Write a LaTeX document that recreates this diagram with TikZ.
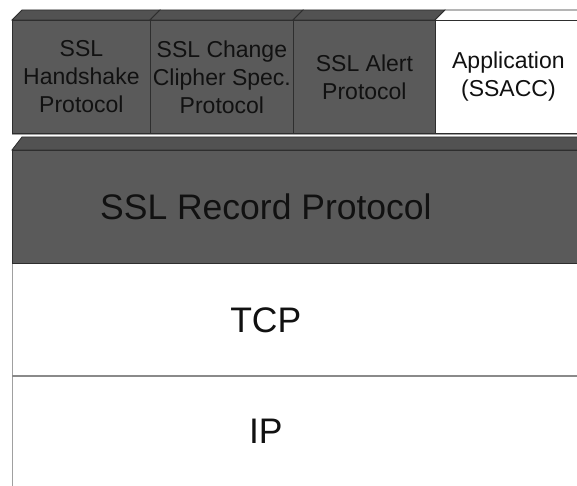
\documentclass[tikz,border=0pt]{standalone}
\usepackage{fontspec}
\setmainfont{Liberation Sans}
\definecolor{darkfill}{HTML}{5A5A5A}
\definecolor{bevelfill}{HTML}{525252}
\definecolor{edge}{HTML}{2E2E2E}
\definecolor{ink}{HTML}{111111}
\definecolor{lightedge}{HTML}{A0A0A0}
\definecolor{midedge}{HTML}{8A8A8A}
\begin{document}
\begin{tikzpicture}[x=1pt,y=-1pt,
  layerbox/.style={draw=edge,line width=0.8pt,fill=darkfill,rectangle,anchor=north west,inner sep=0pt,text=ink,align=center},
  smalltext/.style={font=\fontsize{23}{28}\selectfont},
  bigtext/.style={font=\fontsize{35.5}{40}\selectfont},
  whitebox/.style={draw=lightedge,line width=0.6pt,fill=white,rectangle,anchor=north west,inner sep=0pt,text=ink,align=center},
  bevel/.style={fill=bevelfill,draw=edge,line width=0.8pt}]
\useasboundingbox (0,0) rectangle (577,486);
% top row bevels
\path[bevel] (12,20) -- (22,10) -- (160,10) -- (150,20) -- cycle;
\path[bevel] (150,20) -- (160,10) -- (303,10) -- (293,20) -- cycle;
\path[bevel] (293,20) -- (303,10) -- (445,10) -- (435,20) -- cycle;
\path[fill=white,draw=edge,line width=0.8pt] (435,20) -- (445,10) -- (582,10);
% top row boxes
\node[layerbox,smalltext,minimum width=138pt,minimum height=113pt] (hs) at (12,20) {SSL\\Handshake\\Protocol};
\node[layerbox,smalltext,minimum width=143pt,minimum height=113pt] (ccs) at (150,20) {SSL Change\\Clipher Spec.\\Protocol};
\node[layerbox,smalltext,minimum width=142pt,minimum height=113pt] (alert) at (293,20) {SSL Alert\\Protocol};
\node[layerbox,fill=white,minimum width=150pt,minimum height=113pt] (app) at (435,20) {};
\node[smalltext,text=ink,align=center] (applabel) at ([xshift=-2pt]app.center) {Application\\(SSACC)};
\draw[lightedge,line width=1pt] (12,135) -- (582,135);
% record layer
\path[bevel] (12,150) -- (22,137) -- (582,137) -- (582,150) -- cycle;
\node[layerbox,minimum width=575pt,minimum height=113pt] (rec) at (12,150) {};
\node[bigtext,text=ink] (reclabel) at ([xshift=-34pt]rec.center) {SSL Record Protocol};
% TCP and IP
\node[whitebox,minimum width=575pt,minimum height=113pt] (tcp) at (12,263) {};
\node[bigtext,text=ink] (tcplabel) at ([xshift=-34pt]tcp.center) {TCP};
\node[whitebox,minimum width=575pt,minimum height=120pt] (ip) at (12,376) {};
\node[bigtext,text=ink] (iplabel) at ([xshift=-34pt,yshift=5pt]ip.center) {IP};
\draw[edge,line width=1pt] (12,263) -- (582,263);
\draw[midedge,line width=1.2pt] (12,376) -- (582,376);
\end{tikzpicture}
\end{document}
